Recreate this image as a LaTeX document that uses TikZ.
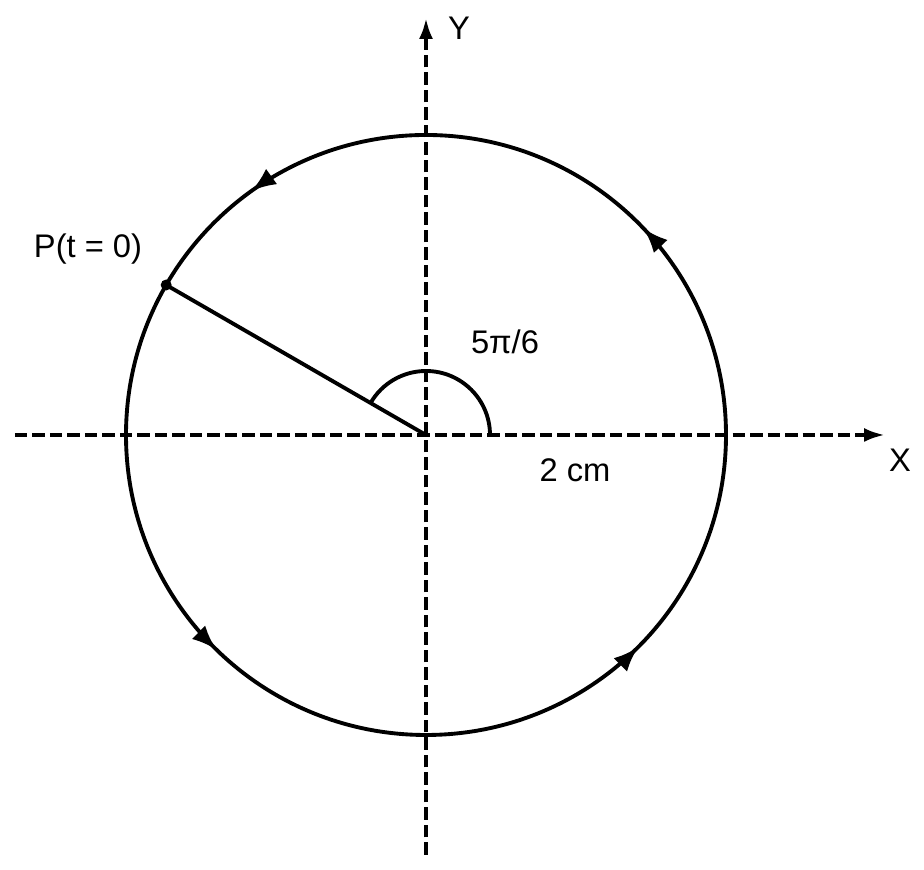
\documentclass[tikz,border=0pt]{standalone}
\usepackage{fontspec}
\setmainfont{Liberation Sans}
\usetikzlibrary{arrows.meta,decorations.markings}
\begin{document}
\begin{tikzpicture}[font=\fontsize{9.3}{11}\selectfont,
        axis/.style={line width=1.1pt, dash pattern=on 1.25mm off 0.5mm},
        orbit/.style={line width=1.1pt, postaction={decorate},
            decoration={markings,
                mark=at position 0.121 with {\arrow{Latex[length=2.5mm,width=1.9mm]}},
                mark=at position 0.349 with {\arrow{Latex[length=2.5mm,width=1.9mm]}},
                mark=at position 0.627 with {\arrow{Latex[length=2.5mm,width=1.9mm]}},
                mark=at position 0.875 with {\arrow{Latex[length=2.5mm,width=1.9mm]}}}}]
        \useasboundingbox (-4.26,-4.35) rectangle (4.98,4.35);
        \coordinate (O) at (0,0);
        \coordinate (P) at (150:3);

        % Draw x and y axes
        \draw[axis,-{Latex[length=2.1mm,width=1.4mm]}] (-4.11,0) -- (4.59,0);
        \draw[axis,-{Latex[length=2.1mm,width=1.4mm]}] (0,-4.20) -- (0,4.17);
        \node (xlab) at (4.74,-0.25) {X};
        \node (ylab) at (0.33,4.07) {Y};

        % Draw the circle and the radius to P
        \draw[orbit] (O) circle (3);
        \draw[line width=1.1pt] (O) -- (P);
        \fill (P) circle (0.055);

        % Angle from the x axis
        \draw[line width=1.1pt] ([shift={(0:0.64)}]O) arc[start angle=0, end angle=150, radius=0.64];

        % Labels for the point, angle and radius
        \node (plab) at (-3.38,1.86) {P(t = 0)};
        \node (angle) at (0.79,0.93) {5π/6};
        \node (radius) at (1.49,-0.35) {2 cm};
    \end{tikzpicture}
\end{document}
